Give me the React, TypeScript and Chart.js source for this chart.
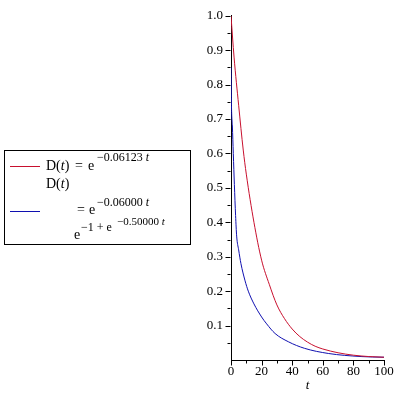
import React, { useEffect, useRef } from "react";
import { Chart, registerables } from "chart.js";

Chart.register(...registerables);

// Red curve: D(t) = e^(-0.06123 t)
const redT = [0, 2, 5, 8, 10, 15, 20, 25, 30, 35, 40, 45, 50, 55, 60, 70, 80, 90, 100];
const redD = [1.0, 0.88, 0.74, 0.61, 0.54, 0.4, 0.29, 0.22, 0.16, 0.12, 0.09, 0.068, 0.052, 0.04, 0.032, 0.021, 0.014, 0.01, 0.008];

// Blue curve
const blueT = [0, 0.3, 0.9, 1.5, 2.2, 3, 3.7, 5, 6.5, 9.2, 11.3, 15, 20, 23.3, 28.8, 37.5, 48, 63.6, 85, 100];
const blueD = [0.85, 0.74, 0.68, 0.6, 0.51, 0.42, 0.36, 0.32, 0.28, 0.23, 0.2, 0.163, 0.125, 0.105, 0.077, 0.053, 0.034, 0.019, 0.01, 0.008];

const xMajorTicks = [0, 20, 40, 60, 80, 100];
const xMinorTicks = [10, 30, 50, 70, 90];
const yMajorTicks = [0.1, 0.2, 0.3, 0.4, 0.5, 0.6, 0.7, 0.8, 0.9, 1.0];
const yMinorTicks = [0.05, 0.15, 0.25, 0.35, 0.45, 0.55, 0.65, 0.75, 0.85, 0.95];

const SERIF = "'Liberation Serif', 'Times New Roman', serif";
const RED = "#c8102e";
const BLUE = "#1010b0";

const tickPlugin = {
  id: "mapleTicks",
  afterDraw(chart: any) {
    const { ctx, scales } = chart;
    const x = scales.x;
    const y = scales.y;
    const left = chart.chartArea.left;
    const bottom = chart.chartArea.bottom;
    ctx.save();
    ctx.strokeStyle = "#000";
    ctx.lineWidth = 1;
    ctx.beginPath();
    const ax = Math.round(left) - 0.5;
    const ay = Math.round(bottom) + 0.5;
    for (const v of yMajorTicks) {
      const p = Math.round(y.getPixelForValue(v)) + 0.5;
      ctx.moveTo(ax - 5, p);
      ctx.lineTo(ax, p);
    }
    for (const v of yMinorTicks) {
      const p = Math.round(y.getPixelForValue(v)) + 0.5;
      ctx.moveTo(ax - 3, p);
      ctx.lineTo(ax, p);
    }
    for (const v of xMajorTicks) {
      const p = Math.round(x.getPixelForValue(v)) + 0.5;
      ctx.moveTo(p, ay);
      ctx.lineTo(p, ay + 5);
    }
    for (const v of xMinorTicks) {
      const p = Math.round(x.getPixelForValue(v)) + 0.5;
      ctx.moveTo(p, ay);
      ctx.lineTo(p, ay + 3);
    }
    ctx.stroke();
    ctx.restore();
  },
};

function Txt(props: { x: number; base: number; size: number; children: any }) {
  const { x, base, size, children } = props;
  return (
    <span
      style={{
        position: "absolute",
        left: x,
        top: base - 0.8375 * size,
        fontFamily: SERIF,
        fontSize: size,
        lineHeight: size + "px",
        whiteSpace: "nowrap",
        color: "#000",
      }}
    >
      {children}
    </span>
  );
}

export default function App() {
  const ref = useRef<HTMLCanvasElement>(null);

  useEffect(() => {
    if (!ref.current) return;
    const chart = new Chart(ref.current, {
      type: "line",
      data: {
        datasets: [
          {
            label: "red",
            data: redT.map((t, i) => ({ x: t, y: redD[i] })),
            borderColor: RED,
            borderWidth: 1,
            pointRadius: 0,
            fill: false,
            cubicInterpolationMode: "monotone",
          },
          {
            label: "blue",
            data: blueT.map((t, i) => ({ x: t, y: blueD[i] })),
            borderColor: BLUE,
            borderWidth: 1,
            pointRadius: 0,
            fill: false,
            cubicInterpolationMode: "monotone",
          },
        ],
      },
      options: {
        animation: false,
        responsive: false,
        layout: { padding: { left: 0, right: 16, top: 14, bottom: 0 } },
        plugins: { legend: { display: false }, tooltip: { enabled: false } },
        scales: {
          x: {
            type: "linear",
            min: 0,
            max: 100,
            afterFit: (s: any) => {
              s.height = 40;
            },
            grid: { display: false, drawTicks: false },
            border: { display: true, color: "#000", width: 1 },
            ticks: {
              stepSize: 20,
              padding: 4,
              maxRotation: 0,
              color: "#000",
              font: { family: SERIF, size: 13 },
              callback: (v: any) => String(v),
            },
            title: {
              display: true,
              text: "t",
              color: "#000",
              font: { family: SERIF, size: 13, style: "italic" },
              padding: { top: 0, bottom: 7 },
            },
          },
          y: {
            type: "linear",
            min: 0,
            max: 1,
            afterFit: (s: any) => {
              s.width = 231;
            },
            grid: { display: false, drawTicks: false },
            border: { display: true, color: "#000", width: 1 },
            ticks: {
              stepSize: 0.1,
              padding: 8,
              color: "#000",
              font: { family: SERIF, size: 13 },
              callback: (v: any) => (Math.abs(v) < 1e-9 ? "" : Number(v).toFixed(1)),
            },
          },
        },
      },
      plugins: [tickPlugin],
    } as any);
    return () => chart.destroy();
  }, []);

  return (
    <div style={{ position: "absolute", left: 0, top: 0, width: 400, height: 400, background: "#fff" }}>
      <canvas ref={ref} width={400} height={400} style={{ position: "absolute", left: 0, top: 0 }} />
      <div
        style={{
          position: "absolute",
          left: 4,
          top: 150,
          width: 185,
          height: 93,
          border: "1px solid #000",
        }}
      />
      <div style={{ position: "absolute", left: 10, top: 166, width: 30, height: 1, background: RED }} />
      <div style={{ position: "absolute", left: 10, top: 211, width: 30, height: 1, background: BLUE }} />
      <Txt x={46} base={171} size={14}>D(<i>t</i>)</Txt>
      <Txt x={75} base={171} size={14}>=</Txt>
      <Txt x={88} base={171} size={14}>e</Txt>
      <Txt x={97} base={161} size={12}>−0.06123 <i>t</i></Txt>
      <Txt x={46} base={189} size={14}>D(<i>t</i>)</Txt>
      <Txt x={77} base={215} size={14}>=</Txt>
      <Txt x={89} base={215} size={14}>e</Txt>
      <Txt x={97} base={206} size={12}>−0.06000 <i>t</i></Txt>
      <Txt x={74} base={240} size={14}>e</Txt>
      <Txt x={81} base={231} size={12}>−1 + e</Txt>
      <Txt x={117} base={225} size={11}>−0.50000 <i>t</i></Txt>
    </div>
  );
}
